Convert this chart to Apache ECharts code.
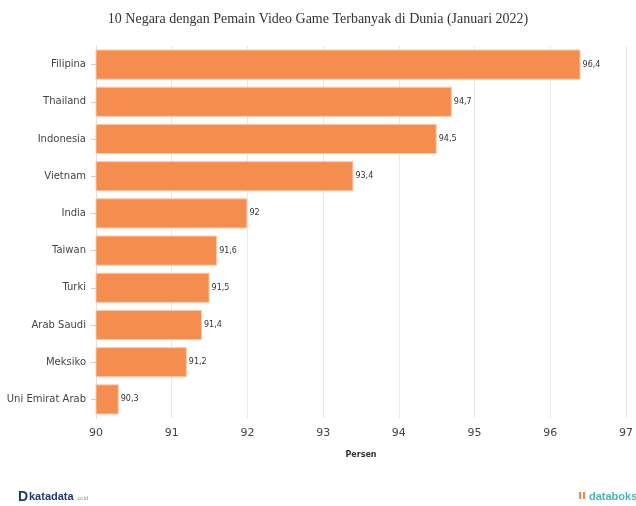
<!DOCTYPE html>
<html><head><meta charset="utf-8">
<script src="https://cdn.jsdelivr.net/npm/echarts@6/dist/echarts.min.js"></script>
<style>html,body{margin:0;padding:0;background:#fff}#c{width:636px;height:506px}</style>
</head><body><div id="c"></div>
<script>
const categories = ["Filipina","Thailand","Indonesia","Vietnam","India","Taiwan","Turki","Arab Saudi","Meksiko","Uni Emirat Arab"];
const values = [96.4,94.7,94.5,93.4,92,91.6,91.5,91.4,91.2,90.3];
const xTicks = [90,91,92,93,94,95,96,97];

const chart = echarts.init(document.getElementById('c'));
chart.setOption({
  animation:false,
  title:{text:"10 Negara dengan Pemain Video Game Terbanyak di Dunia (Januari 2022)",left:'center',top:7,
    textStyle:{fontFamily:'Liberation Serif',fontSize:14,fontWeight:'normal',color:'#333'}},
  grid:{left:96,right:9,top:46,bottom:88},
  xAxis:{type:'value',min:xTicks[0],max:xTicks[xTicks.length-1],interval:1,
    name:'Persen',nameLocation:'middle',nameGap:33,
    nameTextStyle:{fontFamily:'DejaVu Sans',fontSize:8,fontWeight:'bold',color:'#333'},
    axisLine:{show:false},axisTick:{show:false},
    axisLabel:{fontFamily:'DejaVu Sans',fontSize:11,color:'#444',margin:10},
    splitLine:{show:true,lineStyle:{color:'#e8e8e8'}}},
  yAxis:{type:'category',data:categories,inverse:true,
    axisLine:{show:true,lineStyle:{color:'#e0e0e0'}},
    axisTick:{show:true,alignWithLabel:true,length:5,lineStyle:{color:'#ccc'}},
    axisLabel:{fontFamily:'DejaVu Sans',fontSize:10,color:'#444',margin:10}},
  series:[{type:'bar',data:values,barCategoryGap:'19%',
    itemStyle:{color:'#F58D4F',borderColor:'#FBC9A8',borderWidth:1},
    label:{show:true,position:'right',distance:2,fontFamily:'DejaVu Sans',fontSize:8,color:'#333',
      formatter:p=>String(p.value).replace('.',',')}}],
  graphic:[
    {type:'text',left:18,top:490,style:{text:'D',fontFamily:'Liberation Sans',fontWeight:'bold',fontSize:14,fill:'#1d3a6b'}},
    {type:'text',left:29,top:491,style:{text:'katadata',fontFamily:'Liberation Sans',fontWeight:'bold',fontSize:11,fill:'#1d3a6b'}},
    {type:'text',left:76,top:496,style:{text:'.co.id',fontFamily:'Liberation Sans',fontSize:5,fill:'#7a8aa8'}},
    {type:'text',left:578,top:490,style:{text:'ıı',fontFamily:'DejaVu Sans',fontWeight:'bold',fontSize:12,fill:'#f08a4b'}},
    {type:'text',left:589,top:491,style:{text:'databoks',fontFamily:'Liberation Sans',fontWeight:'bold',fontSize:11,fill:'#4bb5b5'}}
  ]
});
</script></body></html>
